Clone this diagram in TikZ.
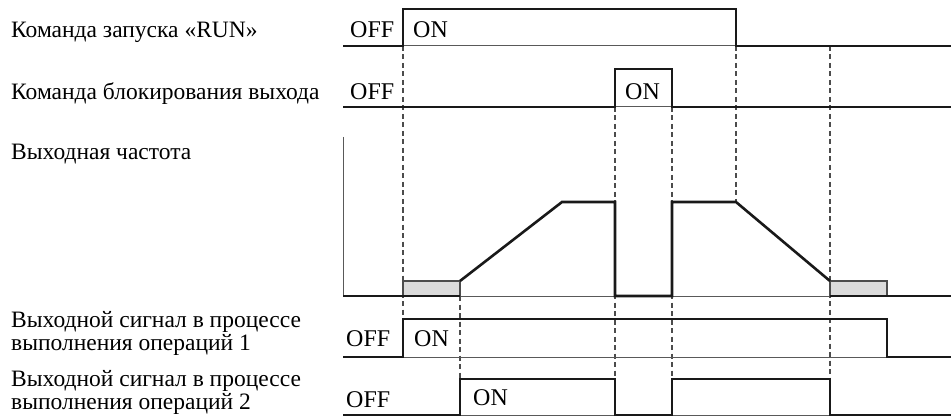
\documentclass[tikz,border=0pt]{standalone}
\usepackage{fontspec}
\setmainfont{Liberation Serif}
\begin{document}
\begin{tikzpicture}[x=1pt,y=-1pt,
  sig/.style={line width=2.6pt,draw=black!90,line join=miter},
  thinln/.style={line width=1pt,draw=black!65},
  guide/.style={line width=1.1pt,draw=black!70,dash pattern=on 5pt off 3.5pt},
  gbox/.style={fill=black!14,draw=black!70,line width=1.2pt},
  lbl/.style={anchor=base west,inner sep=0pt,font=\fontsize{23.5}{25}\selectfont},
  st/.style={anchor=base west,inner sep=0pt,font=\fontsize{24}{26}\selectfont}]
\useasboundingbox (0,0) rectangle (951,417);
% coordinates
\coordinate (r1a) at (343,46); \coordinate (r1b) at (403,46); \coordinate (r1c) at (403,9);
\coordinate (r1d) at (736,9); \coordinate (r1e) at (736,46); \coordinate (r1f) at (951,46);
\coordinate (r2a) at (343,107); \coordinate (r2b) at (615,107); \coordinate (r2c) at (615,69);
\coordinate (r2d) at (672,69); \coordinate (r2e) at (672,107); \coordinate (r2f) at (951,107);
\coordinate (ax) at (343,137); \coordinate (f0) at (343,296); \coordinate (f1) at (403,296);
\coordinate (f2) at (460,296); \coordinate (f2t) at (460,281); \coordinate (f1t) at (403,281);
\coordinate (f3) at (562,202); \coordinate (f4) at (615,202); \coordinate (f5) at (615,296);
\coordinate (f6) at (672,296); \coordinate (f7) at (672,202); \coordinate (f8) at (736,202);
\coordinate (f9) at (830,281); \coordinate (f9b) at (830,296); \coordinate (f10t) at (887,281);
\coordinate (f10) at (887,296); \coordinate (f11) at (951,296);
\coordinate (r4a) at (343,357); \coordinate (r4b) at (403,357); \coordinate (r4c) at (403,319);
\coordinate (r4d) at (887,319); \coordinate (r4e) at (887,357); \coordinate (r4f) at (951,357);
\coordinate (r5a) at (343,415); \coordinate (r5b) at (460,415); \coordinate (r5c) at (460,379);
\coordinate (r5d) at (615,379); \coordinate (r5e) at (615,415); \coordinate (r5f) at (672,415);
\coordinate (r5g) at (672,379); \coordinate (r5h) at (830,379); \coordinate (r5i) at (830,415);
\coordinate (r5j) at (951,415);
\coordinate (g5) at (830,46);
% guide dashed lines
\draw[guide] (r1b) -- (r4c);
\draw[guide] (f2) -- (r5c);
\draw[guide] (r2b) -- (r5d);
\draw[guide] (r2e) -- (r5g);
\draw[guide] (r1e) -- (f8);
\draw[guide] (g5) -- (r5h);
% thin baselines
\draw[thinln] (r1b) -- (r1e);
\draw[thinln] (r2b) -- (r2e);
\draw[thinln] (ax) -- (f0) -- (f11);
\draw[thinln] (r4b) -- (r4e);
\draw[thinln] (r5b) -- (r5e) (r5f) -- (r5i);
% grey boxes
\draw[gbox] (f1) rectangle (f2t);
\draw[gbox] (f9b) rectangle (f10t);
% signals
\draw[sig] (r1a) -- (r1b) -- (r1c) -- (r1d) -- (r1e) -- (r1f);
\draw[sig] (r2a) -- (r2b) -- (r2c) -- (r2d) -- (r2e) -- (r2f);
\draw[sig] (f0) -- (f2);
\draw[sig] (f2t) -- (f3) -- (f4) -- (f5) -- (f6) -- (f7) -- (f8) -- (f9);
\draw[sig] (f9b) -- (f11);
\draw[sig] (r4a) -- (r4b) -- (r4c) -- (r4d) -- (r4e) -- (r4f);
\draw[sig] (r5a) -- (r5b) -- (r5c) -- (r5d) -- (r5e) -- (r5f) -- (r5g) -- (r5h) -- (r5i) -- (r5j);
% left labels
\node[lbl] (l1) at (11,38) {Команда запуска «RUN»};
\node[lbl] (l2) at (11,100) {Команда блокирования выхода};
\node[lbl] (l3) at (11,160) {Выходная частота};
\node[lbl] (l4a) at (11,327) {Выходной сигнал в процессе};
\node[lbl] (l4b) at (11,350) {выполнения операций 1};
\node[lbl] (l5a) at (11,386) {Выходной сигнал в процессе};
\node[lbl] (l5b) at (11,409) {выполнения операций 2};
% state labels
\node[st] (s1off) at (350,38) {OFF};
\node[st] (s1on) at (413,38) {ON};
\node[st] (s2off) at (350,100) {OFF};
\node[st] (s2on) at (625,100) {ON};
\node[st] (s4off) at (346,346) {OFF};
\node[st] (s4on) at (414,346) {ON};
\node[st] (s5off) at (346,407) {OFF};
\node[st] (s5on) at (473,405) {ON};
\end{tikzpicture}
\end{document}
